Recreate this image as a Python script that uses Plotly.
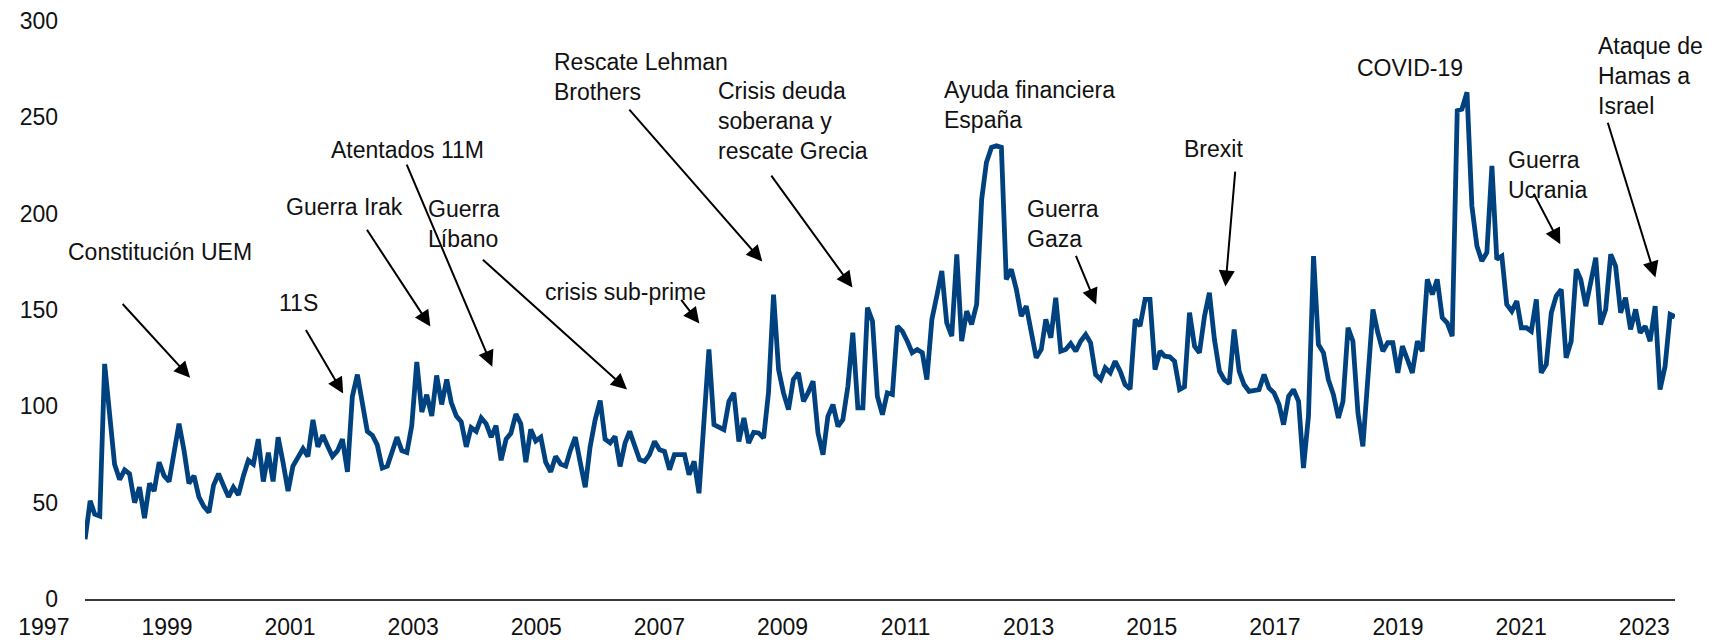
import pandas as pd
import plotly.graph_objects as go

# Monthly index, Jan 1997 - Oct 2023
start_month = "1997-01-01"
index_values = [
    31, 51, 44, 43, 122, 97, 70, 62, 67, 65, 50, 58, 42, 60, 56, 71, 64, 61, 76, 91,
    77, 60, 64, 53, 48, 45, 59, 65, 59, 53, 58, 54, 64, 72, 70, 83, 61, 76, 61, 84,
    71, 56, 69, 73, 78, 74, 93, 79, 85, 79, 74, 77, 83,
    66, 105, 116.5, 100, 87, 85, 80, 68, 69, 76, 84, 77, 76, 90, 123, 97, 106, 95, 116, 101,
    114, 102, 95, 92, 79, 89, 87, 94, 91, 84, 90, 72, 83, 86, 96, 91, 71, 88, 82, 84,
    71, 66, 74, 70, 69, 77, 84, 71, 58, 79, 93, 103, 83, 81,
    84.4, 68.8, 81, 87, 79, 72.3, 71.4, 74.9, 81.8, 77.5, 76.6, 67.1, 74.9, 74.9, 74.9,
    64.5, 71.4, 54.9, 92, 129.5, 90.5, 88.8, 87.9, 102.6, 107, 81.8, 94, 81, 86.5, 86.2,
    83.6, 107, 158, 119, 107, 98.3, 114, 117.4, 102.6, 107, 113, 86.2, 74.9, 94.8, 100.9,
    89.6, 93.1, 110.4, 138.2, 99.2, 99.2, 151.2, 144.2,
    105.2, 95.7, 107, 106.1, 141.6, 139, 133.8, 127.8, 129.5, 127.8, 113.9, 145.1, 157.2,
    170.2, 143.4, 136.4, 178.9, 133.8, 149.4, 142.5, 152.9, 207.5, 226.6, 234.4, 235.2,
    234.4, 165.9, 171.1, 160.7, 146.8, 152, 138.2, 125.2, 129.5, 145.1, 135.6, 156.4,
    128.6, 129.5, 132.6, 128.6, 133.8, 137.3, 133, 116.5, 113.9, 120, 117.4, 123.4, 118.2,
    111.3, 109, 145.1, 141.6, 155.5,
    155.5, 119.1, 128.6, 126, 125.7, 123.4, 108.7, 110.1, 148.6, 131.2, 127.8, 146.8, 159,
    134.7, 118.2, 113.9, 111.8, 139.9, 118.2, 111.3, 107.8, 108.2, 108.7, 116.5, 109.6,
    107, 100.9, 90.5, 105.2, 108.7, 102.6, 68, 95, 178, 132.1, 127.8, 113.9, 106.1, 94,
    102.6, 140.8, 133.8, 96.6, 79.2, 113.9, 150.3, 138.2, 128.6, 133, 133, 117.4, 131.2,
    124.3, 117.4,
    133.8, 128.6, 165.9, 158.1, 165.9, 146, 143.4, 136.4, 253.4, 254.3, 263, 204, 183.2,
    175.4, 179.8, 224.8, 176.3, 178, 152.9, 149.4, 154.6, 140.8, 140.8, 139, 155.5, 117.4,
    121.7, 148.6, 157.2, 160.7, 125.2, 133.8, 171.1, 165.9, 152, 165.9, 177.1, 142.5,
    150.3, 178.9, 172.8, 148.6, 156.4, 139.9, 150.3, 138.2, 141.6, 133.8, 152, 108.7,
    120.8, 147.7, 146.5,
]
dates = pd.date_range(start_month, periods=len(index_values), freq="MS")

# year labels under the axis (spread a bit wider than the data, as in the original)
label_years = list(range(1997, 2024, 2))

# Event labels: text, (month offset, value) of the text, and arrow tail/head (None = no arrow)
event_texts = [
    "Constitución UEM", "11S", "Guerra Irak", "Atentados 11M", "Guerra<br>Líbano",
    "crisis sub-prime", "Rescate Lehman<br>Brothers", "Crisis deuda<br>soberana y<br>rescate Grecia",
    "Ayuda financiera<br>España", "Guerra<br>Gaza", "Brexit", "COVID-19",
    "Guerra<br>Ucrania", "Ataque de<br>Hamas a<br>Israel",
]
event_text_pos = [
    (15.1, 180, "center"), (43, 153.4, "center"), (52.3, 203.3, "center"), (65, 233, "center"),
    (68.8, 194.5, "left"), (109, 159.1, "center"), (94.3, 270.9, "left"), (127.4, 248, "left"),
    (173, 256.6, "left"), (189.8, 194.7, "left"), (227.7, 233.5, "center"), (267.5, 275.6, "center"),
    (286.9, 220.2, "left"), (305.1, 271.2, "left"),
]
event_arrows = [
    ((7.3, 153.9), (21.2, 114.9)), ((44.4, 140.4), (52.1, 106.6)), ((56.7, 192.4), (69.7, 141.4)),
    ((64.8, 226.2), (82.2, 120.6)), ((80, 176.8), (109.4, 108.7)), ((120.1, 156), (124, 143)),
    ((109.6, 254.8), (136.7, 175.2)), ((138.3, 220.5), (154.9, 161.7)), None,
    ((199.9, 178.9), (204.1, 152.9)), ((232.2, 222.6), (230.2, 162.2)), None,
    ((292.3, 211.1), (297.8, 184.1)), ((307.3, 248), (317, 166.9)),
]

y_ticks = [0, 50, 100, 150, 200, 250, 300]

FONT = "Liberation Sans, Arial, Helvetica, sans-serif"
TEXT_COLOR = "#111111"
LINE_COLOR = "#00427F"


def month_to_date(m):
    return pd.Timestamp(start_month) + pd.Timedelta(days=m * 30.437)


fig = go.Figure()
# empty trace that only carries the year-label axis (drawn first, underneath)
fig.add_trace(go.Scatter(
    x=label_years, y=[None] * len(label_years), xaxis="x2", yaxis="y",
    mode="lines", showlegend=False, hoverinfo="skip",
))
fig.add_trace(go.Scatter(
    x=dates, y=index_values, mode="lines",
    line=dict(color=LINE_COLOR, width=4.8),
    showlegend=False, hoverinfo="x+y",
))

for txt, (m, v, anchor) in zip(event_texts, event_text_pos):
    fig.add_annotation(
        x=month_to_date(m), y=v, xref="x", yref="y", text=txt, showarrow=False,
        xanchor=anchor, yanchor="middle", align="left",
        font=dict(family=FONT, size=23, color=TEXT_COLOR),
    )

for arr in event_arrows:
    if arr is None:
        continue
    (tm, tv), (hm, hv) = arr
    fig.add_annotation(
        x=month_to_date(hm), y=hv, ax=month_to_date(tm), ay=tv,
        xref="x", yref="y", axref="x", ayref="y", text="",
        showarrow=True, arrowhead=2, arrowsize=1.6, arrowwidth=2, arrowcolor="#000000",
        standoff=0, startstandoff=0,
    )

# the page body adds an 8px offset, so margins are trimmed by that much
fig.update_layout(
    width=1713, height=644,
    margin=dict(l=10, r=46, t=13, b=53),
    paper_bgcolor="white", plot_bgcolor="rgba(0,0,0,0)",
    font=dict(family=FONT, size=23, color=TEXT_COLOR),
    showlegend=False,
    xaxis=dict(
        type="date", range=[dates[0], dates[-1]], domain=[0.0405, 1],
        showticklabels=False, showgrid=False, zeroline=False, automargin=False,
        showline=True, linecolor="#3a3a3a", linewidth=1.5, ticks="",
    ),
    xaxis2=dict(
        type="linear", range=[1996.58, 2023.50], domain=[0, 1], anchor="y",
        tickvals=label_years, tickformat="d",
        showgrid=False, zeroline=False, showline=False, automargin=False,
        ticks="", ticklabelstandoff=12,
        tickfont=dict(family=FONT, size=23, color=TEXT_COLOR),
    ),
    yaxis=dict(
        range=[0, 300], tickvals=y_ticks, automargin=False, anchor="x",
        showgrid=False, zeroline=False, showline=False,
        ticks="", ticklabelstandoff=26,
        tickfont=dict(family=FONT, size=23, color=TEXT_COLOR),
    ),
)

fig.write_html("out.html")
